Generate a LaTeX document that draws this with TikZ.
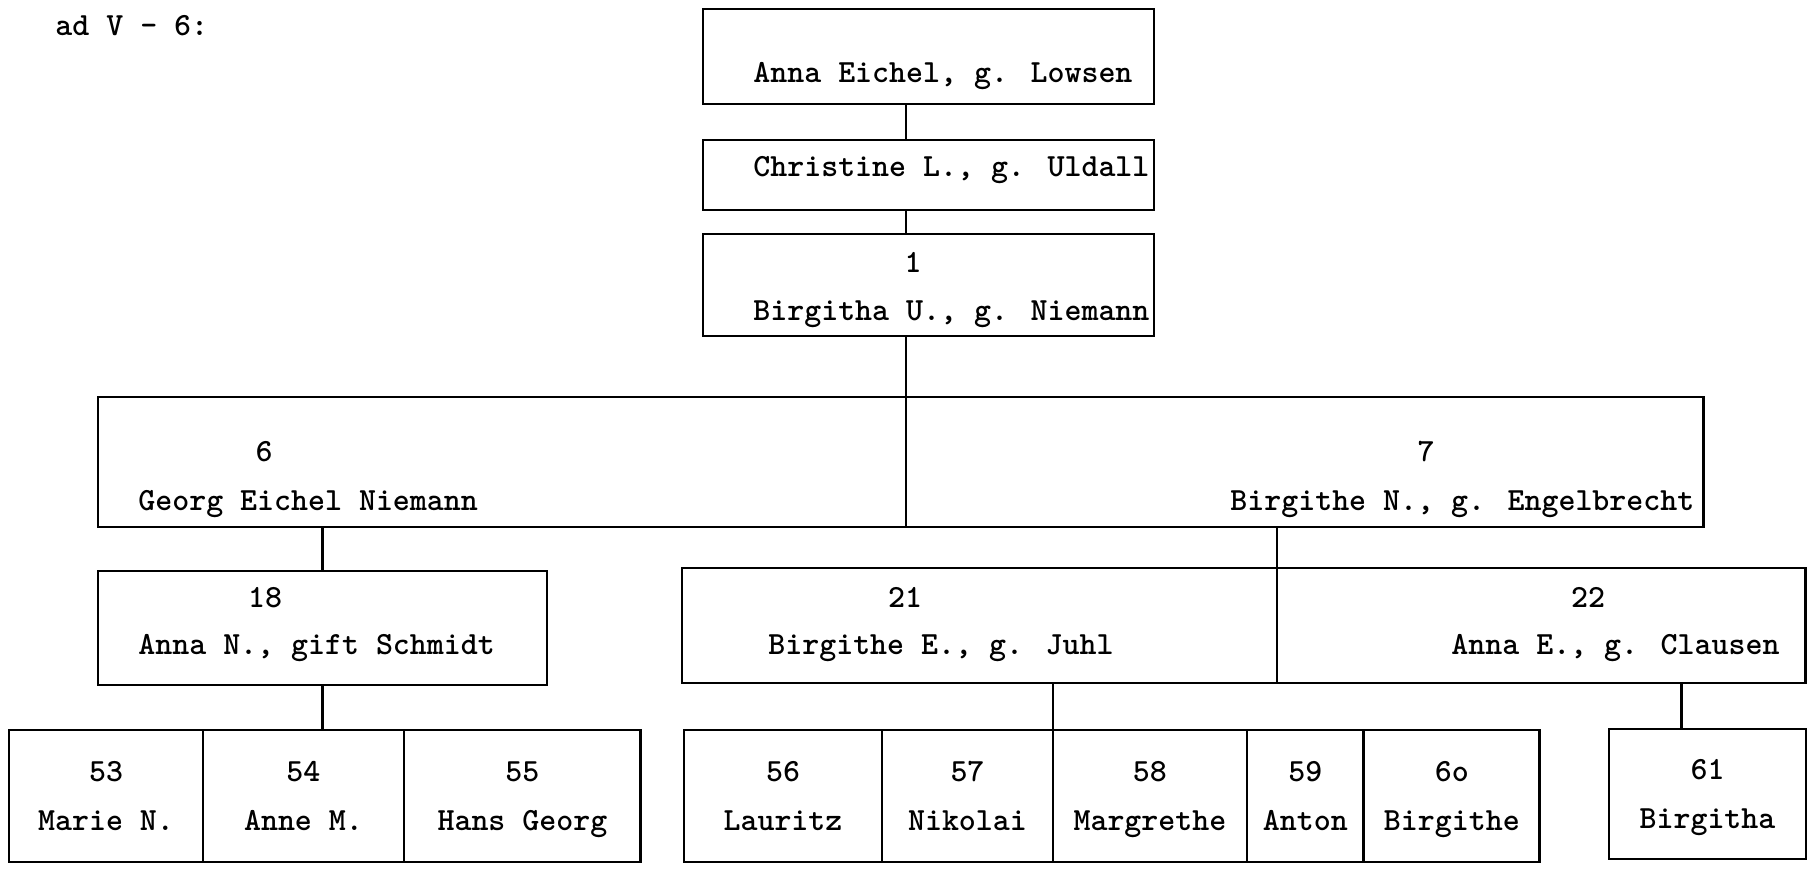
\documentclass[tikz,border=0pt]{standalone}
\usetikzlibrary{positioning, calc}

% cell text: number above name
\newcommand{\pers}[2]{\strut #1\\\strut #2}

\begin{document}
\begin{tikzpicture}[
    x=0.02cm, y=-0.02cm,
    line width=1.6pt,
    font=\fontsize{18.4}{27.8}\selectfont\ttfamily\bfseries,
    % Box styles
    box/.style={rectangle, draw=black, outer sep=0pt, inner sep=0pt},
    cell/.style={box, minimum height=2.64cm, align=center},
    txt/.style={anchor=base west, inner sep=0pt},
    num/.style={anchor=base, inner sep=0pt}
]
\useasboundingbox (0,0) rectangle (1815,869);

% --- Heading ---
\node[txt] (head) at (54,35) {ad V - 6:};

% --- 1. Ancestors (top column) ---
\node[box, minimum width=9.02cm, minimum height=1.9cm] (A) at (928.5,56.5) {};
\node[box, minimum width=9.02cm, minimum height=1.4cm, below=0.72cm of A] (B) {};
\node[box, minimum width=9.02cm, minimum height=2.04cm, below=0.48cm of B] (C) {};
\node[txt] (tA) at (752,82) {Anna Eichel, g. Lowsen};
\node[txt] (tB) at (752,176) {Christine L., g. Uldall};
\node[num] (nC) at (913,272) {1};
\node[txt] (tC) at (752,320) {Birgitha U., g. Niemann};

% --- 2. Children (6 | 7) ---
\node[box, minimum width=16.16cm, minimum height=2.6cm] (p6) at (502,462) {};
\node[box, minimum width=15.96cm, minimum height=2.6cm, right=0pt of p6] (p7) {};
\node[num] (n6) at (264,461) {6};
\node[txt] (t6) at (137,510) {Georg Eichel Niemann};
\node[num] (n7) at (1426,461) {7};
\node[txt] (t7) at (1229,510) {Birgithe N., g. Engelbrecht};

% --- 3. Grandchildren ---
\node[box, minimum width=8.98cm, minimum height=2.28cm] (p18) at (322.5,628) {};
\node[num] (n18) at (265,607) {18};
\node[txt] (t18) at (137,654) {Anna N., gift Schmidt};

\node[box, minimum width=11.9cm, minimum height=2.3cm] (p21) at (979.5,625.5) {};
\node[box, minimum width=10.58cm, minimum height=2.3cm, right=0pt of p21] (p22) {};
\node[num] (n21) at (905,607) {21};
\node[txt] (t21) at (767,654) {Birgithe E., g. Juhl};
\node[num] (n22) at (1588,607) {22};
\node[txt] (t22) at (1450,654) {Anna E., g. Clausen};

% --- 4. Great-grandchildren ---
\node[cell, minimum width=3.88cm] (p53) at (106,796) {\pers{53}{Marie N.}};
\node[cell, minimum width=4.02cm, right=0pt of p53] (p54) {\pers{54}{Anne M.}};
\node[cell, minimum width=4.74cm, right=0pt of p54] (p55) {\pers{55}{Hans Georg}};

\node[cell, minimum width=3.96cm] (p56) at (783,796) {\pers{56}{Lauritz}};
\node[cell, minimum width=3.42cm, right=0pt of p56] (p57) {\pers{57}{Nikolai}};
\node[cell, minimum width=3.88cm, right=0pt of p57] (p58) {\pers{58}{Margrethe}};
\node[cell, minimum width=2.34cm, right=0pt of p58] (p59) {\pers{59}{Anton}};
\node[cell, minimum width=3.52cm, right=0pt of p59] (p60) {\pers{6o}{Birgithe}};

\node[cell, minimum width=3.94cm, minimum height=2.6cm] (p61) at (1707.5,794) {\pers{61}{Birgitha}};

% --- Edges ---
\draw (A.south -| p6.east) -- (B.north -| p6.east);
\draw (B.south -| p6.east) -- (C.north -| p6.east);
\draw (C.south -| p6.east) -- (p6.north east);

\draw (p18.north) -- (p18.north |- p6.south);
\draw (p7.south -| p21.east) -- (p21.north east);

\draw (p18.south) -- (p18.south |- p54.north);
\draw (p21.south -| p57.east) -- (p57.north east);
\coordinate (j22) at ($(p61.north)+(-26,0)$);
\draw (j22) -- (j22 |- p22.south);

\end{tikzpicture}
\end{document}
